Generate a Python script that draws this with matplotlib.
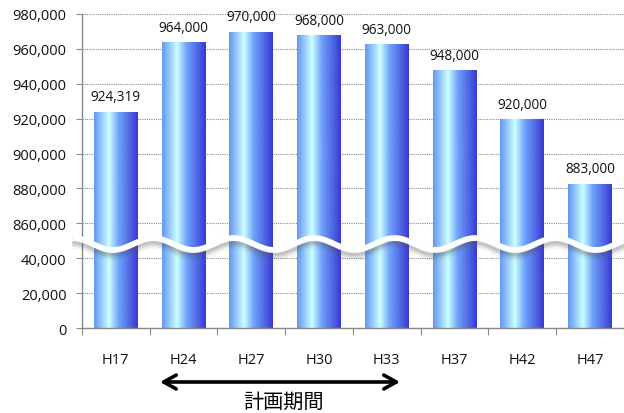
import numpy as np
import matplotlib
matplotlib.use("Agg")
import matplotlib.pyplot as plt
import matplotlib.transforms as mtransforms
from matplotlib.colors import LinearSegmentedColormap

plt.rcParams['font.family'] = ['Open Sans', 'DejaVu Sans']

# Population figures by year
years = ['H17', 'H24', 'H27', 'H30', 'H33', 'H37', 'H42', 'H47']
population = [924319, 964000, 970000, 968000, 963000, 948000, 920000, 883000]
value_labels = ['924,319', '964,000', '970,000', '968,000', '963,000', '948,000', '920,000', '883,000']
ytick_values = [0, 20000, 40000, 860000, 880000, 900000, 920000, 940000, 960000, 980000]


# Broken axis: 0-40,000 and 860,000 and up share one step size,
# the gap between them is squeezed into a single step
def fwd(v):
    v = np.asarray(v, dtype=float)
    return np.where(v <= 40000, v / 20000,
                    np.where(v <= 860000, 2 + (v - 40000) / 820000,
                             3 + (v - 860000) / 20000))


def inv(u):
    u = np.asarray(u, dtype=float)
    return np.where(u <= 2, u * 20000,
                    np.where(u <= 3, 40000 + (u - 2) * 820000,
                             860000 + (u - 3) * 20000))


fig = plt.figure(figsize=(6.24, 4.14), dpi=100)
ax = fig.add_axes([0.1314, 0.2053, 0.8686, 0.7585])
ax.set_yscale('function', functions=(fwd, inv))
ax.set_ylim(0, 980000)
ax.set_xlim(-0.5, len(years) - 0.5)

# horizontal gradient used to fill each bar
grad = LinearSegmentedColormap.from_list('bar', [
    (0.0, (0.40, 0.60, 0.96)),
    (0.33, (0.80, 1.0, 1.0)),
    (0.55, (0.44, 0.64, 0.98)),
    (1.0, (0.21, 0.21, 0.83)),
])
strip = np.linspace(0, 1, 256).reshape(1, -1)

x = np.arange(len(years))
bar_w = 0.65
bars = ax.bar(x, population, width=bar_w, facecolor='none', edgecolor='none', zorder=2)
for rect in bars:
    x0 = rect.get_x()
    img = ax.imshow(strip, cmap=grad, aspect='auto', interpolation='bicubic',
                    extent=(x0, x0 + bar_w, 0, 980000), zorder=2)
    img.set_clip_path(rect)

for xi, val, lab in zip(x, population, value_labels):
    ax.annotate(lab, (xi, val), xytext=(0, 5), textcoords='offset points',
                ha='center', va='bottom', fontsize=9.8, color='#111111')

# axes styling
ax.set_yticks(ytick_values)
ax.set_yticklabels([f'{v:,}' for v in ytick_values])
ax.yaxis.grid(True, linestyle=(0, (1, 1)), color='#8c8c8c', linewidth=0.8, zorder=0)
ax.set_axisbelow(True)
ax.tick_params(axis='y', length=4, width=0.8, color='#888888', pad=7, labelsize=10.5,
               labelcolor='#111111')
ax.set_xticks(x)
ax.set_xticklabels(years)
ax.set_xticks(np.arange(len(years) + 1) - 0.5, minor=True)
ax.tick_params(axis='x', which='major', length=0, pad=17, labelsize=10.5, labelcolor='#111111')
ax.tick_params(axis='x', which='minor', length=5, width=0.8, color='#888888')
for side in ['top', 'right']:
    ax.spines[side].set_visible(False)
for side in ['left', 'bottom']:
    ax.spines[side].set_color('#888888')
    ax.spines[side].set_linewidth(1.0)

# wavy break mark across the axis gap
trans = mtransforms.blended_transform_factory(ax.transData, ax.transAxes)
wx = np.linspace(-0.64, 7.5, 600)
period = 1.188
wy = 0.2675 - 0.019 * np.cos(2 * np.pi * (wx + 0.043) / period)
for dy, lw, a in [(-4, 10, 0.05), (-3.5, 8, 0.08), (-3, 6.5, 0.12), (-2.5, 5, 0.15)]:
    ax.plot(wx, wy, color='#555555', lw=lw, alpha=a, solid_capstyle='butt', clip_on=False,
            zorder=5, transform=mtransforms.offset_copy(trans, fig, y=dy, units='dots'))
ax.plot(wx, wy, color='white', lw=4.2, transform=trans, clip_on=False, zorder=6,
        solid_capstyle='butt')

# planning period arrow and caption
ax.annotate('', xy=(400, 31), xytext=(160, 31), xycoords='figure pixels',
            textcoords='figure pixels',
            arrowprops=dict(arrowstyle='<->,head_length=0.9,head_width=0.5', lw=2.6,
                            color='black', shrinkA=0, shrinkB=0))
fig.text(284 / 624, 12 / 414, '計画期間', ha='center', va='center', fontsize=14.5,
         family=['Noto Sans CJK JP', 'DejaVu Sans'])

fig.savefig('out.png', dpi=100)
